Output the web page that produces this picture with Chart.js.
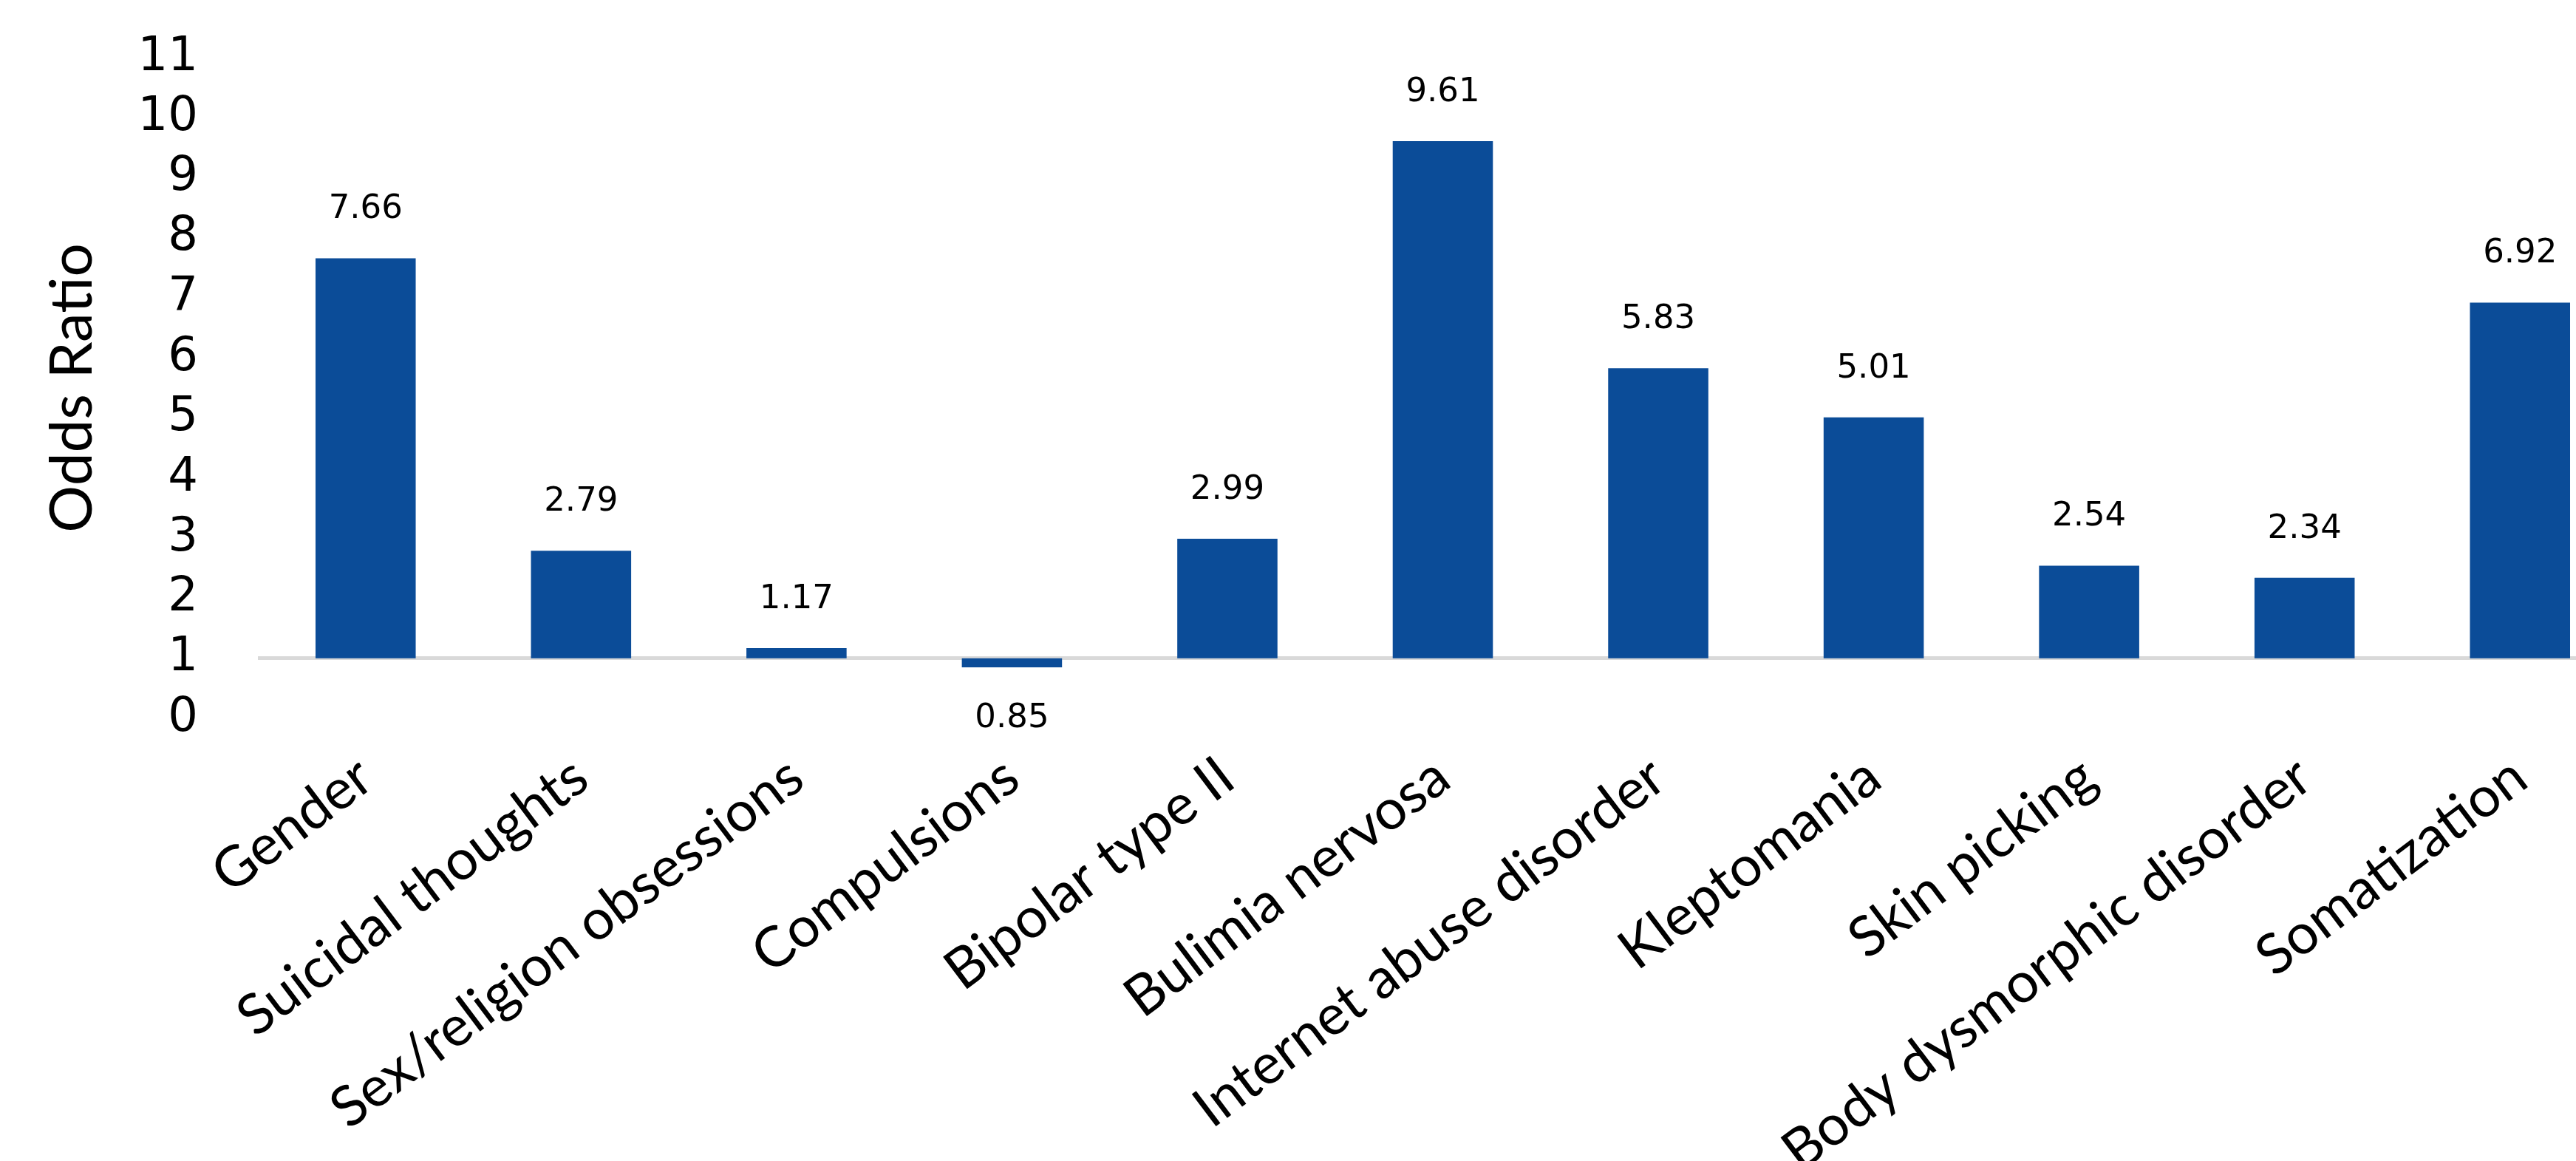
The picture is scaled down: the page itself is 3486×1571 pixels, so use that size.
<!DOCTYPE html>
<html>
<head>
<meta charset="utf-8">
<script src="https://cdn.jsdelivr.net/npm/chart.js@4.4.1/dist/chart.umd.min.js"></script>
<style>
  html, body { margin: 0; padding: 0; background: #fff; overflow: hidden; }
  #wrap { position: relative; width: 3556px; height: 1571px; }
</style>
</head>
<body>
<div id="wrap"><canvas id="chart"></canvas></div>
<script>
// odds ratios, bars are drawn from the reference line at 1
const categories = ['Gender', 'Suicidal thoughts', 'Sex/religion obsessions', 'Compulsions',
  'Bipolar type II', 'Bulimia nervosa', 'Internet abuse disorder', 'Kleptomania',
  'Skin picking', 'Body dysmorphic disorder', 'Somatization'];
const oddsRatios = [7.66, 2.79, 1.17, 0.85, 2.99, 9.61, 5.83, 5.01, 2.54, 2.34, 6.92];
const baseline = 1;
const yTicks = [0, 1, 2, 3, 4, 5, 6, 7, 8, 9, 10, 11];

const barColor = '#0B4C98';
const labelFont = 'Lato, "Open Sans", sans-serif';
const numFont = '"DejaVu Sans", Verdana, sans-serif';

// value labels above (or below) each bar
const valueLabels = {
    id: 'valueLabels',
    afterDatasetsDraw: (chart) => {
        const { ctx } = chart;
        const meta = chart.getDatasetMeta(0);
        ctx.save();
        ctx.fillStyle = '#000';
        ctx.font = '45px ' + numFont;
        ctx.textAlign = 'center';
        ctx.textBaseline = 'middle';
        meta.data.forEach((bar, i) => {
            const v = oddsRatios[i];
            const y = chart.scales.y.getPixelForValue(v);
            if (v >= baseline) {
                ctx.fillText(v.toFixed(2), bar.x, y - 66);
            } else {
                ctx.fillText(v.toFixed(2), bar.x, y + 69);
            }
        });
        ctx.restore();
    }
};

new Chart(document.getElementById('chart'), {
    type: 'bar',
    data: {
        labels: categories,
        datasets: [{
            data: oddsRatios.map(v => [baseline, v]),
            backgroundColor: barColor,
            borderWidth: 0,
            barPercentage: 0.465,
            categoryPercentage: 1.0,
        }],
    },
    options: {
        responsive: true,
        maintainAspectRatio: false,
        animation: false,
        layout: { padding: { top: 78, left: 0, right: 0, bottom: 0 } },
        plugins: {
            legend: { display: false },
            tooltip: { enabled: false },
        },
        scales: {
            x: {
                grid: { display: false, drawTicks: false },
                border: { display: false },
                ticks: {
                    color: '#000',
                    font: { size: 76, family: labelFont },
                    minRotation: 37,
                    maxRotation: 37,
                    autoSkip: false,
                    padding: 34,
                },
                afterFit: (scale) => { scale.height = 599; },
            },
            y: {
                min: 0,
                max: 11,
                afterBuildTicks: (scale) => { scale.ticks = yTicks.map(v => ({ value: v })); },
                grid: {
                    drawTicks: false,
                    color: (c) => c.tick && c.tick.value === baseline ? '#d9d9d9' : 'rgba(0,0,0,0)',
                    lineWidth: (c) => c.tick && c.tick.value === baseline ? 5 : 0,
                },
                border: { display: false },
                ticks: {
                    color: '#000',
                    font: { size: 64, family: numFont },
                    padding: 81,
                    autoSkip: false,
                },
                title: {
                    display: true,
                    text: 'Odds Ratio',
                    color: '#000',
                    font: { size: 80, family: labelFont },
                    padding: { top: 50, bottom: 0 },
                },
                afterFit: (scale) => {
                    scale.width = 349;
                    // tick padding should not push the plot down
                    scale.paddingTop = 0;
                    scale.paddingBottom = 0;
                },
            },
        },
    },
    plugins: [valueLabels],
});
</script>
</body>
</html>
